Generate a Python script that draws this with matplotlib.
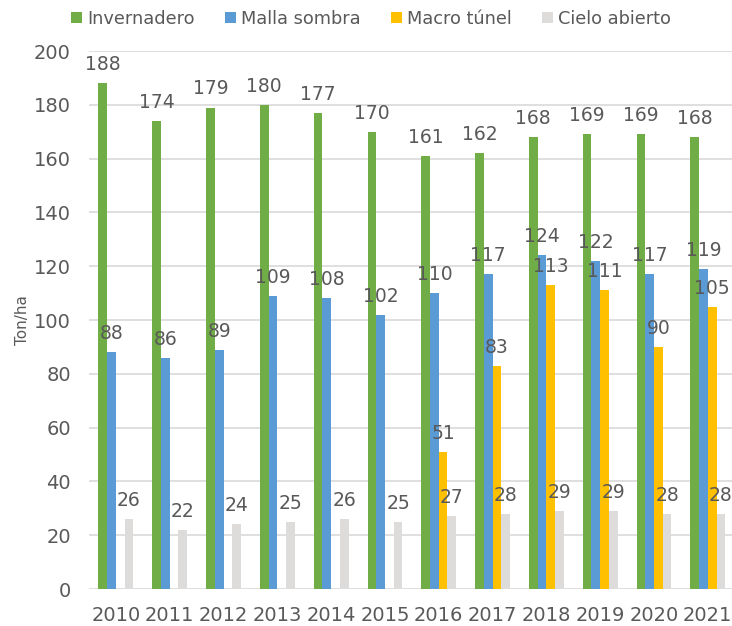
import numpy as np
import matplotlib.pyplot as plt

# Datos
years = ['2010', '2011', '2012', '2013', '2014', '2015',
         '2016', '2017', '2018', '2019', '2020', '2021']
invernadero = [188, 174, 179, 180, 177, 170, 161, 162, 168, 169, 169, 168]
malla_sombra = [88, 86, 89, 109, 108, 102, 110, 117, 124, 122, 117, 119]
macro_tunel = [np.nan] * 6 + [51, 83, 113, 111, 90, 105]
cielo_abierto = [26, 22, 24, 25, 26, 25, 27, 28, 29, 29, 28, 28]

series = [
    ('Invernadero', invernadero, '#70AD47'),
    ('Malla sombra', malla_sombra, '#5B9BD5'),
    ('Macro túnel', macro_tunel, '#FFC000'),
    ('Cielo abierto', cielo_abierto, '#DDDCDB'),
]
txt = '#595959'

fig = plt.figure(figsize=(7.32, 6.26), dpi=100)
ax = fig.add_axes([0.1216, 0.0591, 0.8784, 0.8594])

x = np.arange(len(years))
w = 0.162
for i, (name, vals, color) in enumerate(series):
    pos = x + (i - 1.5) * w
    ax.bar(pos, vals, width=w, color=color, label=name, zorder=3)
    # etiquetas de datos
    for p, v in zip(pos, vals):
        if np.isnan(v):
            continue
        ax.annotate(f'{v:.0f}', (p, v), xytext=(0, 6.5), textcoords='offset points',
                    ha='center', va='bottom', fontsize=13.5, color=txt, zorder=4)

ax.set_xlim(-0.5, 11.45)
ax.set_ylim(0, 200)
ax.set_yticks(range(0, 201, 20))
ax.set_xticks(x)
ax.set_xticklabels(years)
ax.tick_params(axis='both', length=0, labelsize=14, colors=txt)
ax.tick_params(axis='y', pad=13)
ax.tick_params(axis='x', pad=12)
for s in ax.spines.values():
    s.set_visible(False)
ax.grid(axis='y', color='#D9D9D9', linewidth=1.2, zorder=0)
ax.set_axisbelow(True)
ax.set_ylabel('Ton/ha', fontsize=11, color=txt, labelpad=3)

fig.legend(loc='upper center', bbox_to_anchor=(0.507, 1.01), ncol=4, frameon=False,
           fontsize=12.8, labelcolor=txt, handlelength=0.6, handleheight=0.6,
           handletextpad=0.3, columnspacing=1.7)

fig.savefig('out.png', dpi=100)
